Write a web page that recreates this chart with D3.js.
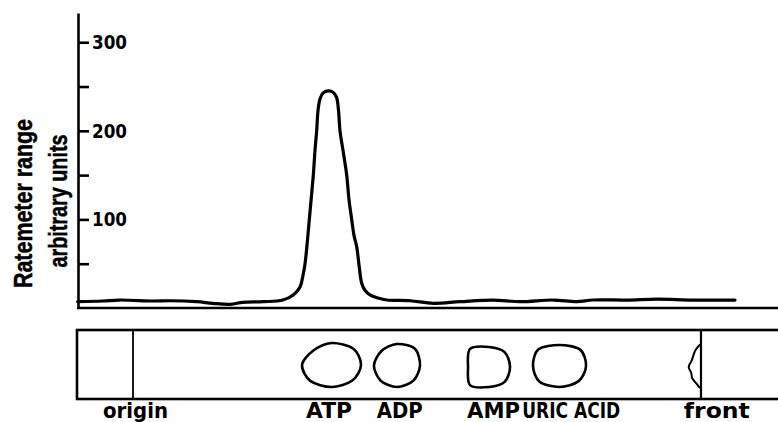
<!DOCTYPE html>
<html><head><meta charset="utf-8">
<script src="https://cdn.jsdelivr.net/npm/d3@7"></script>
<style>
html,body{margin:0;padding:0;background:#fff;}
svg{display:block;}
</style></head>
<body>
<svg id="chart" width="778" height="422"></svg>
<script>
// ---- data ----
// scan trace: distance along strip (mm) and ratemeter reading (arbitrary units)
const traceDist = [0.1,3.7,6.1,10.9,13.3,17.1,19.4,21.9,23.7,26.6,29.4,30.9,31.86,32.29,32.57,32.86,33.19,33.5,33.76,34.0,34.24,34.43,34.71,35.14,35.86,36.57,37.07,37.36,37.57,38.0,38.53,38.86,39.24,39.57,39.96,40.29,40.67,41.14,41.86,43.0,44.29,47.6,50.9,54.7,59.4,63.3,68.0,71.4,73.7,78.6,82.9,88.0,94.0];
const traceValue = [7.1,7.9,9.0,7.9,8.2,7.1,5.3,4.2,6.4,7.1,9.0,14.7,23.7,37,49.6,71,100,127,150,178,200,223,236,242.5,245,243.6,238,223,200,178,150,122,100,82,69,48.5,28,20,14.7,11.3,9.0,8.2,5.3,7.1,9.0,7.1,9.0,7.1,9.0,9.0,10.1,9.0,9.0];
const yTicks = [50,100,150,200,250,300];
const yTickLabels = ["", "100", "", "200", "", "300"];
const yTitle = ["Ratemeter range", "arbitrary units"];
// chromatogram strip: spots (position mm, half-width mm, half-height mm, offset across strip mm, outline factors)
const spotNames = ["ATP","ADP","AMP","URIC ACID"];
const spotPos = [36.36,45.71,58.86,68.93];
const spotRx = [4.21,3.29,3.0,3.79];
const spotRy = [3.14,3.07,2.86,3.0];
const spotAcross = [5.0,5.07,5.29,5.14];
const spotShape = [
  [1,1.0,1,1.02,1,0.9,1,1.05],
  [1,1.0,1,1.0,1,0.95,1,1.1],
  [1,1.05,1,1.28,1,1.28,1,1.05],
  [1,1.02,1,1.06,1,1.12,1,1.1]
];
const originPos = 8.0;
const frontPos = 89.14;
const stripWidthMm = 9.86;
// solvent front irregularity: position across strip (mm) and depth (mm)
const frontAcross = [2.0,2.4,3.1,4.3,5.3,6.1,6.9,7.6,8.1,8.3];
const frontDepth  = [0.0,0.45,0.9,1.3,1.75,1.4,1.25,0.7,0.3,0.0];
// labels under the strip
const labelNames = ["origin","ATP","ADP","AMP","URIC ACID","front"];
const labelPos = [8.36,36.0,46.1,59.5,70.6,91.4];
const labelWidth = [65,46,46,53,98,66];

// ---- drawing ----
const svg = d3.select("#chart");
const W = 778;
const x = d3.scaleLinear().domain([0,100]).range([77,777]);
const y = d3.scaleLinear().domain([0,333]).range([308,13]);
const sy = d3.scaleLinear().domain([0,stripWidthMm]).range([330,399]);
const font = "'Liberation Sans', Arial, sans-serif";

// y axis
const yAxis = d3.axisRight(y).tickValues(yTicks).tickSize(11).tickSizeOuter(0).tickPadding(3)
  .tickFormat((d,i)=>yTickLabels[i]);
const ga = svg.append("g").attr("transform",`translate(${x(0)+1},0)`).call(yAxis);
ga.select(".domain").attr("stroke","#000").attr("stroke-width",2.6);
ga.selectAll(".tick line").attr("stroke","#000").attr("stroke-width",2.6);
ga.selectAll(".tick text").attr("fill","#000").attr("font-family","'DejaVu Sans', sans-serif")
  .attr("font-size",19.5).attr("font-weight","bold")
  .each(function(){ if(this.textContent) d3.select(this).attr("textLength",35).attr("lengthAdjust","spacingAndGlyphs"); });

// x baseline
svg.append("line").attr("x1",x(0)).attr("x2",W).attr("y1",y(0)).attr("y2",y(0))
  .attr("stroke","#000").attr("stroke-width",2.6);

// y title
const titleX = [32,67], titleLen=[169,133], titleY=[203.5,201];
yTitle.forEach((t,i)=>{
  svg.append("text").attr("transform",`translate(${titleX[i]},${titleY[i]}) rotate(-90)`)
    .attr("text-anchor","middle").attr("font-family",font).attr("font-weight","bold")
    .attr("font-size",26).attr("textLength",titleLen[i]).attr("lengthAdjust","spacingAndGlyphs")
    .attr("fill","#000").attr("stroke","#000").attr("stroke-width",0.5).text(t);
});

// trace
const traceData = traceDist.map((d,i)=>[d,traceValue[i]]);
svg.append("path").datum(traceData)
  .attr("d", d3.line().x(d=>x(d[0])).y(d=>y(d[1])).curve(d3.curveCatmullRom.alpha(0.5)))
  .attr("fill","none").attr("stroke","#000").attr("stroke-width",3.2)
  .attr("stroke-linejoin","round").attr("stroke-linecap","round");

// strip
svg.append("rect").attr("x",x(0)).attr("y",sy(0)).attr("width",W+20-x(0)).attr("height",sy(stripWidthMm)-sy(0))
  .attr("fill","none").attr("stroke","#000").attr("stroke-width",2.6);
svg.append("line").attr("x1",x(originPos)).attr("x2",x(originPos)).attr("y1",sy(0)).attr("y2",sy(stripWidthMm))
  .attr("stroke","#000").attr("stroke-width",1.8);
svg.append("line").attr("x1",x(frontPos)).attr("x2",x(frontPos)).attr("y1",sy(0)).attr("y2",sy(stripWidthMm))
  .attr("stroke","#000").attr("stroke-width",2.2);
const frontPts = frontAcross.map((a,i)=>[x(frontPos - frontDepth[i]), sy(a)]);
svg.append("path").attr("d", d3.line().curve(d3.curveCatmullRom)(frontPts))
  .attr("fill","none").attr("stroke","#000").attr("stroke-width",2);

// spots
const mmPx = x(1)-x(0);
spotNames.forEach((n,i)=>{
  const cx = x(spotPos[i]), cy = sy(spotAcross[i]);
  const pts = spotShape[i].map((f,k)=>{
    const a = k*Math.PI/4;
    return [cx + Math.cos(a)*spotRx[i]*mmPx*f, cy + Math.sin(a)*spotRy[i]*mmPx*f];
  });
  svg.append("path").attr("d", d3.line().curve(d3.curveCardinalClosed.tension(0.1))(pts))
    .attr("fill","none").attr("stroke","#000").attr("stroke-width",2.6);
});

// labels
labelNames.forEach((n,i)=>{
  svg.append("text").attr("x",x(labelPos[i])).attr("y",418).attr("text-anchor","middle")
    .attr("font-family","'DejaVu Sans', sans-serif").attr("font-weight","bold").attr("font-size",20.5)
    .attr("textLength",labelWidth[i]).attr("lengthAdjust","spacingAndGlyphs")
    .attr("fill","#000").text(n);
});
</script>
</body></html>
